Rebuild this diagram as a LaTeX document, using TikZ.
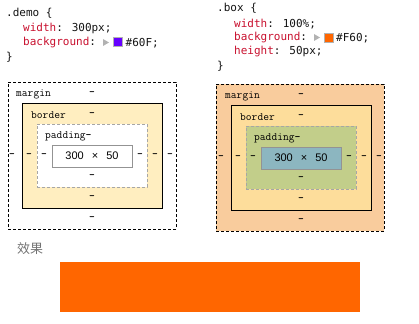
\documentclass[tikz,border=0pt]{standalone}
\usepackage{fontspec}
\setsansfont{Liberation Sans}
\newfontfamily\cjk{Noto Sans CJK SC}
\newfontfamily\codefont{DejaVu Sans Mono}
\definecolor{prop}{RGB}{200,16,46}
\definecolor{val}{RGB}{20,20,20}
\definecolor{lborder}{HTML}{FFEEC0}
\definecolor{rmargin}{HTML}{F9CC9D}
\definecolor{rborder}{HTML}{FDDD9B}
\definecolor{rpadding}{HTML}{C2CE8A}
\definecolor{rcontent}{HTML}{8CB6C0}
\definecolor{purp}{HTML}{6600FF}
\definecolor{orng}{HTML}{FF6600}
\tikzset{
  code/.style={anchor=west,inner sep=0pt,font=\codefont\fontsize{11}{13}\selectfont,text=val},
  lbl/.style={anchor=west,inner sep=0pt,font=\ttfamily\fontsize{11.2}{12}\selectfont},
  dsh/.style={inner sep=0pt,font=\ttfamily\bfseries\fontsize{11}{12}\selectfont},
  boxr/.style={rectangle,anchor=north west,inner sep=0pt,outer sep=0pt},
  mbox/.style={boxr,draw=black,dashed,dash pattern=on 3pt off 2pt,line width=0.8pt},
  bbox/.style={boxr,draw=black,line width=0.8pt},
  pbox/.style={boxr,draw=gray!70,dash pattern=on 3pt off 2pt,line width=0.8pt},
  cbox/.style={boxr,draw=gray!85,line width=0.8pt,font=\sffamily\fontsize{11}{12}\selectfont},
  swatch/.style={rectangle,draw=gray!60,line width=0.5pt,minimum width=9pt,minimum height=9pt,inner sep=0pt},
  tri/.style={fill=gray!60,draw=none},
}
\begin{document}
\begin{tikzpicture}[x=1pt,y=-1pt]
\useasboundingbox (0,0) rectangle (419,323);
% left code
\node[code] (l1) at (6,13) {.demo \{};
\node[code] (l2) at (23,28) {\textcolor{prop}{width}: 300px;};
\node[code] (l3) at (23,43) {\textcolor{prop}{background}:};
\fill[tri] (103,39) -- (109,42.5) -- (103,46) -- cycle;
\node[swatch,fill=purp] (ls) at (118,42) {};
\node[code] (l3b) at (125.5,43) {\#60F;};
\node[code] (l4) at (6,57) {\}};
% right code
\node[code] (r1) at (217,8) {.box \{};
\node[code] (r2) at (234,24) {\textcolor{prop}{width}: 100\%;};
\node[code] (r3) at (234,38) {\textcolor{prop}{background}:};
\fill[tri] (314,34) -- (320,37.5) -- (314,41) -- cycle;
\node[swatch,fill=orng] (rs) at (328.5,37.5) {};
\node[code] (r3b) at (336,38) {\#F60;};
\node[code] (r4) at (234,52) {\textcolor{prop}{height}: 50px;};
\node[code] (r5) at (217,66) {\}};

% left box model
\node[mbox,minimum width=168,minimum height=147] (lm) at (8,82) {};
\node[bbox,fill=lborder,minimum width=140,minimum height=105] (lb) at (22,103) {};
\node[pbox,fill=white,minimum width=110,minimum height=63] (lp) at (37,124) {};
\node[cbox,fill=white,minimum width=80,minimum height=22] (lc) at (52,145) {300\hspace{8pt}×\hspace{8pt}50};
\node[lbl] (lml) at (16,94) {margin};
\node[dsh] (lmt) at (92,94) {-};
\node[lbl] (lbl) at (31,115) {border};
\node[dsh] (lbt) at (92,115) {-};
\node[lbl] (lpl) at (45,136) {padding\textbf{-}};
\node[dsh] (lml1) at (12,156) {-};
\node[dsh] (lbl1) at (29,156) {-};
\node[dsh] (lpl1) at (44,156) {-};
\node[dsh] (lpr1) at (140,156) {-};
\node[dsh] (lbr1) at (155,156) {-};
\node[dsh] (lmr1) at (170,156) {-};
\node[dsh] (lpb) at (92,177) {-};
\node[dsh] (lbb) at (92,198) {-};
\node[dsh] (lmb) at (92,219) {-};

% right box model
\begin{scope}[shift={(209,2)}]
\node[mbox,fill=rmargin,minimum width=168,minimum height=147] (rm) at (7,82) {};
\node[bbox,fill=rborder,minimum width=140,minimum height=105] (rb) at (22,103) {};
\node[pbox,fill=rpadding,minimum width=110,minimum height=63] (rp) at (37,124) {};
\node[cbox,fill=rcontent,minimum width=80,minimum height=22] (rc) at (52,145) {300\hspace{8pt}×\hspace{8pt}50};
\node[lbl] (rml) at (16,94) {margin};
\node[dsh] (rmt) at (92,94) {-};
\node[lbl] (rbl) at (31,115) {border};
\node[dsh] (rbt) at (92,115) {-};
\node[lbl] (rpl) at (45,136) {padding\textbf{-}};
\node[dsh] (rml1) at (12,156) {-};
\node[dsh] (rbl1) at (29,156) {-};
\node[dsh] (rpl1) at (44,156) {-};
\node[dsh] (rpr1) at (140,156) {-};
\node[dsh] (rbr1) at (155,156) {-};
\node[dsh] (rmr1) at (170,156) {-};
\node[dsh] (rpb) at (92,177) {-};
\node[dsh] (rbb) at (92,198) {-};
\node[dsh] (rmb) at (92,219) {-};
\end{scope}

% effect
\node[anchor=west,inner sep=0pt,font=\cjk\fontsize{13}{15}\selectfont,text=gray!90!black] (eff) at (17,249) {效果};
\node[boxr,fill=orng,minimum width=300,minimum height=50] (res) at (60,262) {};
\end{tikzpicture}
\end{document}
